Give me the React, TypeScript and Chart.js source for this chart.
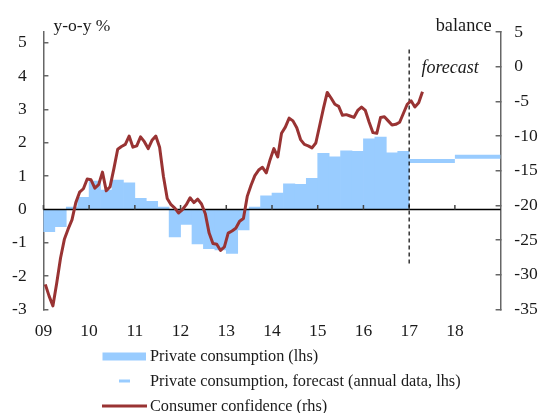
import React, { useEffect, useRef } from "react";
import { Chart, registerables } from "chart.js";

Chart.register(...registerables);

// ---------- data ----------
const START_YEAR = 2009;
const END_YEAR = 2019;
const yearTickLabels = ["09", "10", "11", "12", "13", "14", "15", "16", "17", "18"];
const leftTickValues = [-3, -2, -1, 0, 1, 2, 3, 4, 5];
const rightTickValues = [-35, -30, -25, -20, -15, -10, -5, 0, 5];

// Private consumption, y-o-y %, quarterly 2009Q1 .. 2016Q4 (lhs)
const consumptionQuarterly = [
  -0.67, -0.52, 0.07, 0.36,
  0.85, 0.58, 0.88, 0.8,
  0.33, 0.24, 0.07, -0.83,
  -0.45, -1.04, -1.18, -1.22,
  -1.32, -0.62, 0.07, 0.41,
  0.49, 0.77, 0.75, 0.93,
  1.68, 1.58, 1.76, 1.74,
  2.12, 2.17, 1.7, 1.74,
];

// Private consumption forecast, annual data (lhs)
const forecastYears = [2017, 2018];
const forecastValues = [1.45, 1.58];

// Consumer confidence, balance, monthly Jan 2009 .. Apr 2017 (rhs)
const confidenceMonthly = [
  -31.4, -33.1, -34.5, -31.2, -27.6, -24.9, -23.4, -22.1, -19.6, -18.1, -17.6, -16.2,
  -16.3, -17.5, -17.0, -15.2, -17.9, -17.3, -14.7, -11.9, -11.5, -11.2, -10.0, -11.6,
  -11.4, -10.1, -10.8, -11.8, -10.6, -10.0, -11.6, -15.8, -19.0, -19.9, -20.4, -21.1,
  -20.6, -19.9, -18.9, -19.6, -19.1, -19.8, -21.2, -24.0, -25.5, -25.6, -26.5, -26.0,
  -24.0, -23.7, -23.3, -22.3, -21.9, -18.7, -17.1, -15.7, -14.9, -14.5, -15.3, -13.4,
  -11.8, -13.0, -9.6, -8.7, -7.4, -7.8, -8.8, -10.5, -11.2, -11.4, -11.7, -11.0,
  -8.5, -6.0, -3.7, -4.5, -5.4, -5.7, -7.0, -6.9, -7.1, -7.3, -6.3, -5.8,
  -6.3, -8.0, -9.5, -9.6, -7.3, -7.2, -7.8, -8.4, -8.3, -8.0, -6.7, -5.4,
  -4.9, -5.8, -5.2, -3.6,
];

// forecast marker line (year, lhs extent)
const forecastMarkerYear = 2017;
const forecastMarkerRange = [4.8, -1.7];

const leftAxisRange = [-3, 5.32];
const rightAxisRange = [-35, 5];

// ---------- styles ----------
const BLUE = "#99ccff";
const RED = "#993333";
const AXIS = "#666666";
const TEXT = "#1a1a1a";
const FONT = "'Liberation Serif', 'Times New Roman', serif";

const barPoints = consumptionQuarterly.map((v, i) => ({ x: START_YEAR + (i + 0.5) / 4, y: v }));
const forecastPoints: any[] = [];
forecastYears.forEach((yr, i) => {
  if (i > 0) forecastPoints.push({ x: yr, y: null });
  forecastPoints.push({ x: yr, y: forecastValues[i] });
  forecastPoints.push({ x: yr + 1, y: forecastValues[i] });
});
const confidencePoints = confidenceMonthly.map((v, i) => ({ x: START_YEAR + (i + 0.5) / 12, y: v }));

const decor = {
  id: "decor",
  afterDatasetDraw(chart: any, args: any) {
    if (args.index !== 3) return;
    const { ctx, chartArea, scales } = chart;
    const y0 = scales.y.getPixelForValue(0);
    ctx.save();
    ctx.strokeStyle = "#000";
    ctx.lineWidth = 1.5;
    ctx.beginPath();
    ctx.moveTo(chartArea.left, y0);
    ctx.lineTo(chartArea.right, y0);
    ctx.stroke();
    ctx.strokeStyle = "#444";
    ctx.lineWidth = 1.5;
    ctx.beginPath();
    scales.x.ticks.forEach((t: any) => {
      const x = scales.x.getPixelForValue(t.value);
      ctx.moveTo(x, y0);
      ctx.lineTo(x, y0 - 4.5);
    });
    ctx.stroke();
    ctx.restore();
  },
  afterDraw(chart: any) {
    const { ctx } = chart;
    ctx.save();
    ctx.fillStyle = TEXT;
    ctx.textBaseline = "alphabetic";
    ctx.font = `17.5px ${FONT}`;
    ctx.textAlign = "left";
    ctx.fillText("y-o-y %", 53.5, 31);
    ctx.font = `18.3px ${FONT}`;
    ctx.textAlign = "right";
    ctx.fillText("balance", 491.5, 31);
    ctx.textAlign = "left";
    ctx.font = `italic 18px ${FONT}`;
    ctx.fillText("forecast", 421.5, 72.5);

    // legend
    ctx.font = `16.3px ${FONT}`;
    ctx.textBaseline = "middle";
    ctx.fillStyle = BLUE;
    ctx.fillRect(102.5, 352.5, 43.5, 8);
    ctx.strokeStyle = BLUE;
    ctx.lineWidth = 3;
    ctx.beginPath();
    ctx.moveTo(119, 381);
    ctx.lineTo(130, 381);
    ctx.stroke();
    ctx.strokeStyle = RED;
    ctx.lineWidth = 3;
    ctx.beginPath();
    ctx.moveTo(102, 406);
    ctx.lineTo(147, 406);
    ctx.stroke();
    ctx.fillStyle = TEXT;
    ctx.fillText("Private consumption (lhs)", 150, 357);
    ctx.fillText("Private consumption, forecast (annual data, lhs)", 150, 382);
    ctx.fillText("Consumer confidence (rhs)", 150, 407);
    ctx.restore();
  },
};

export default function App() {
  const ref = useRef<HTMLCanvasElement | null>(null);
  useEffect(() => {
    document.body.style.margin = "0";
    Chart.defaults.font.family = FONT;
    Chart.defaults.color = TEXT;
    const canvas = ref.current!;
    const chart = new Chart(canvas, {
      type: "bar",
      data: {
        datasets: [
          {
            type: "line",
            label: "Consumer confidence (rhs)",
            data: confidencePoints,
            yAxisID: "yR",
            borderColor: RED,
            borderWidth: 3,
            pointRadius: 0,
            tension: 0,
            borderJoinStyle: "round",
            order: 0,
          } as any,
          {
            type: "line",
            label: "forecast marker",
            data: [
              { x: forecastMarkerYear, y: forecastMarkerRange[0] },
              { x: forecastMarkerYear, y: forecastMarkerRange[1] },
            ],
            yAxisID: "y",
            borderColor: "#000",
            borderWidth: 1.2,
            borderDash: [4, 3],
            pointRadius: 0,
            order: 1,
          } as any,
          {
            type: "line",
            label: "Private consumption, forecast (annual data, lhs)",
            data: forecastPoints,
            yAxisID: "y",
            borderColor: BLUE,
            borderWidth: 4,
            pointRadius: 0,
            spanGaps: false,
            order: 2,
          } as any,
          {
            type: "bar",
            label: "Private consumption (lhs)",
            data: barPoints,
            yAxisID: "y",
            backgroundColor: BLUE,
            borderWidth: 0,
            barPercentage: 1,
            categoryPercentage: 1,
            order: 3,
          } as any,
        ],
      },
      options: {
        responsive: false,
        animation: false,
        events: [],
        layout: { padding: { left: 0, right: 0, top: 26, bottom: 73.7 } },
        plugins: { legend: { display: false }, tooltip: { enabled: false } },
        scales: {
          x: {
            type: "linear",
            min: START_YEAR,
            max: END_YEAR,
            offset: false,
            grid: { display: false, drawTicks: false },
            border: { display: false },
            ticks: {
              stepSize: 1,
              padding: 11.5,
              maxRotation: 0,
              autoSkip: false,
              font: { size: 17.5 },
              callback: (v: any) => yearTickLabels[Math.round(v - START_YEAR)] ?? "",
            },
            afterBuildTicks: (s: any) => {
              s.ticks = s.ticks.filter((t: any) => t.value < END_YEAR);
            },
            afterFit: (s: any) => {
              s.height = 30;
            },
          },
          y: {
            type: "linear",
            position: "left",
            min: leftAxisRange[0],
            max: leftAxisRange[1],
            grid: { drawOnChartArea: false, drawTicks: true, tickLength: -5, color: AXIS, lineWidth: 1.5 },
            border: { display: true, color: AXIS, width: 1.5 },
            ticks: { padding: 21.7, font: { size: 17.5 } },
            afterBuildTicks: (s: any) => {
              s.ticks = leftTickValues.map((v) => ({ value: v }));
            },
            afterFit: (s: any) => {
              s.width = 43.4;
            },
          },
          yR: {
            type: "linear",
            position: "right",
            min: rightAxisRange[0],
            max: rightAxisRange[1],
            grid: { drawOnChartArea: false, drawTicks: true, tickLength: -5, color: AXIS, lineWidth: 1.5 },
            border: { display: true, color: AXIS, width: 1.5 },
            ticks: { padding: 18.7, font: { size: 17.5 } },
            afterBuildTicks: (s: any) => {
              s.ticks = rightTickValues.map((v) => ({ value: v }));
            },
            afterFit: (s: any) => {
              s.width = 42.4;
            },
          },
        },
      } as any,
      plugins: [decor],
    });
    return () => chart.destroy();
  }, []);
  return (
    <div style={{ width: 543, height: 413 }}>
      <canvas ref={ref} width={543} height={413} style={{ display: "block" }} />
    </div>
  );
}
